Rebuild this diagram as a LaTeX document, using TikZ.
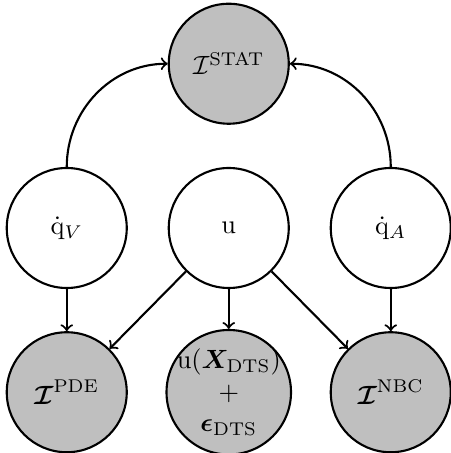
\documentclass[tikz,border=0pt]{standalone}
\usepackage{amsmath}
\usepackage{amsfonts}
\usepackage{bm}
\usepackage{tikz}

\begin{document}
\begin{tikzpicture}[
	latent/.style={shape=circle,draw=black,thick,minimum size=1.6cm,inner sep=0pt},
	observed/.style={latent,fill=gray!50},
	link/.style={->,thick}]
	\useasboundingbox (0,0) rectangle (6,6.04);

	\node[observed] (stat) at (3.05, 5.19)   {$\mathcal{I}^{\mathrm{STAT}}$};
	\node[latent]   (qv)   at (0.89, 3.0)    {$\dot{\mathrm{q}}_V$};
	\node[latent]   (u)    at (3.05, 3.0)    {$\mathrm{u}$};
	\node[latent]   (qa)   at (5.21, 3.0)    {$\dot{\mathrm{q}}_A$};
	\node[observed] (pde)  at (0.89, 0.81)   {$\bm{\mathcal{I}}^{\mathrm{PDE}}$};
	\node[observed,minimum size=1.66cm,inner sep=-2pt,align=center] (dts)  at (3.05, 0.81)
		{$\mathrm{u}(\bm{X}_{\mathrm{DTS}})$\\$+$\\$\bm{\epsilon}_{\mathrm{DTS}}$};
	\node[observed] (nbc)  at (5.21, 0.81)   {$\bm{\mathcal{I}}^{\mathrm{NBC}}$};

	\path[link] (qv) edge[out=90,in=180] (stat);
	\path[link] (qa) edge[out=90,in=0] (stat);
	\path[link] (qv) edge (pde);
	\path[link] (u) edge (pde);
	\path[link] (u) edge (dts);
	\path[link] (u) edge (nbc);
	\path[link] (qa) edge (nbc);

\end{tikzpicture}
\end{document}
